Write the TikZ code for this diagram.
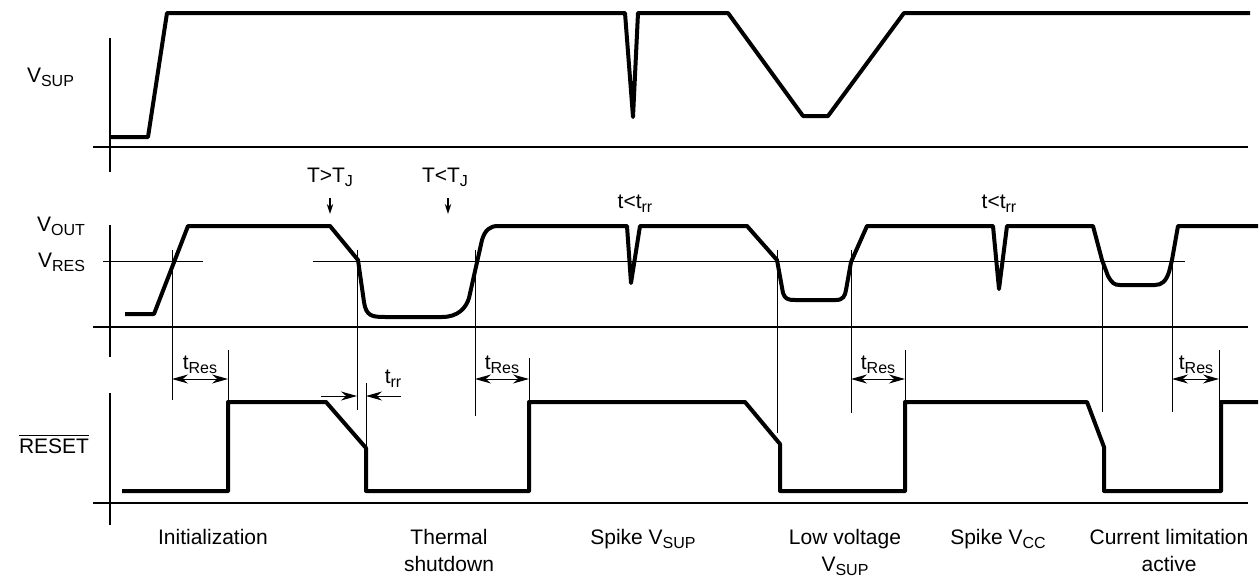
\documentclass[tikz,border=0pt]{standalone}
\usepackage{fontspec}
\setmainfont{Liberation Sans}
\usetikzlibrary{arrows.meta}
\newcommand{\sig}[2]{#1\raisebox{-0.45ex}{\fontsize{8}{8}\selectfont #2}}
\newcommand{\tresdim}[4]{\draw[dim] (#1,379)--(#2,379);
  \node[anchor=base] (#4) at (#3,369) {\sig{t}{Res}};}

\begin{document}
\begin{tikzpicture}[x=0.5pt,y=-0.5pt,font=\fontsize{10.5}{13.5}\selectfont,
  wave/.style={line width=2pt,line join=round},
  axis/.style={line width=1.2pt},
  guide/.style={line width=0.5pt},
  dim/.style={guide,{Stealth[length=8pt,width=4.5pt]}-{Stealth[length=8pt,width=4.5pt]}},
  tip/.style={line width=0.7pt,-{Stealth[length=5pt,width=3.2pt]}}]
\path[use as bounding box] (0,0) rectangle (1259,578);
% axes
\draw[axis] (110,38)--(110,172); \draw[axis] (93,147)--(1248,147);
\draw[axis] (110,225)--(110,357); \draw[axis] (93,327)--(1248,327);
\draw[axis] (110,393)--(110,525); \draw[axis] (93,503)--(1248,503);
\draw[guide] (103,261)--(203,261); \draw[guide] (313,261)--(1185,261);
% signal names
\node[anchor=base west] (vsup) at (20,82) {\sig{V}{SUP}};
\node[anchor=base east] (vout) at (92,231) {\sig{V}{OUT}};
\node[anchor=base east] (vres) at (92,267) {\sig{V}{RES}};
\node[anchor=base west] (rst) at (12,453) {$\overline{\hbox{RESET}}$};
% supply voltage
\draw[wave] (110,137)--(148,137)--(167,13)--(625,13)--(633,117)--(638,13)--(728,13)
  --(803,116)--(828,116)--(904,13)--(1250,13);
% output voltage
\draw[wave] (125,314)--(154,314)--(188,226)--(330,226)--(358,260)--(364,302)
  .. controls (366,316) and (372,317) .. (385,317)--(442,317)
  .. controls (458,317) and (466,308) .. (469,298)--(482,240)
  .. controls (485,230) and (490,226) .. (498,226)--(627,226)--(631,283)--(640,226)
  --(747,226)--(777,260)--(783,293) .. controls (785,299) and (788,300) .. (795,300)
  --(836,300) .. controls (843,300) and (845,296) .. (846,290)--(851,262)--(867,226)
  --(993,226)--(999,289)--(1007,226)--(1093,226)--(1102,260)--(1108,276)
  .. controls (1112,283) and (1114,285) .. (1120,285)--(1155,285)
  .. controls (1162,285) and (1166,281) .. (1169,272)--(1172,260)--(1178,226)--(1258,226);
% reset output
\draw[wave] (122,491)--(228,491)--(228,402)--(326,402)--(366,448)--(366,491)--(529,491)
  --(529,402)--(745,402)--(780,444)--(780,491)--(905,491)--(905,402)--(1087,402)
  --(1104,447)--(1104,491)--(1221,491)--(1221,402)--(1258,402);
% guide lines
\draw[guide] (172,250)--(172,400); \draw[guide] (228,350)--(228,402);
\draw[guide] (357,250)--(357,410); \draw[guide] (366,383)--(366,448);
\draw[guide] (475,250)--(475,416); \draw[guide] (529,358)--(529,402);
\draw[guide] (777,250)--(777,433); \draw[guide] (851,250)--(851,413);
\draw[guide] (905,350)--(905,402);
\draw[guide] (1102,258)--(1102,412); \draw[guide] (1172,258)--(1172,412);
\draw[guide] (1219,350)--(1219,402);
% timings
\tresdim{172}{228}{200}{tres1}
\tresdim{475}{529}{502}{tres2}
\tresdim{851}{905}{878}{tres3}
\tresdim{1172}{1219}{1196}{tres4}
\node[anchor=base] (trr) at (393,383) {\sig{t}{rr}};
\coordinate (trrl) at (357,396); \coordinate (trrr) at (366,396);
\draw[guide,-{Stealth[length=8pt,width=4.5pt]}] (321,396)--(trrl);
\draw[guide,-{Stealth[length=8pt,width=4.5pt]}] (401,396)--(trrr);
% temperature marks
\node[anchor=base] (thot) at (330,182) {T>\sig{T}{J}};
\node[anchor=base] (tcold) at (445,182) {T<\sig{T}{J}};
\coordinate (thotp) at (330,214); \coordinate (tcoldp) at (448,214);
\draw[tip] (330,198)--(thotp); \draw[tip] (448,198)--(tcoldp);
\node[anchor=base] (spk1) at (635,208) {t<\sig{t}{rr}};
\node[anchor=base] (spk2) at (999,208) {t<\sig{t}{rr}};
% cases
\node[anchor=base] (c1) at (213,544) {Initialization};
\node[anchor=base,align=center] (c2) at (449,571) {Thermal\\shutdown};
\node[anchor=base] (c3) at (643,544) {Spike \sig{V}{SUP}};
\node[anchor=base,align=center] (c4) at (845,571) {Low voltage\\\sig{V}{SUP}};
\node[anchor=base] (c5) at (998,544) {Spike \sig{V}{CC}};
\node[anchor=base,align=center] (c6) at (1169,571) {Current limitation\\active};
\end{tikzpicture}
\end{document}
